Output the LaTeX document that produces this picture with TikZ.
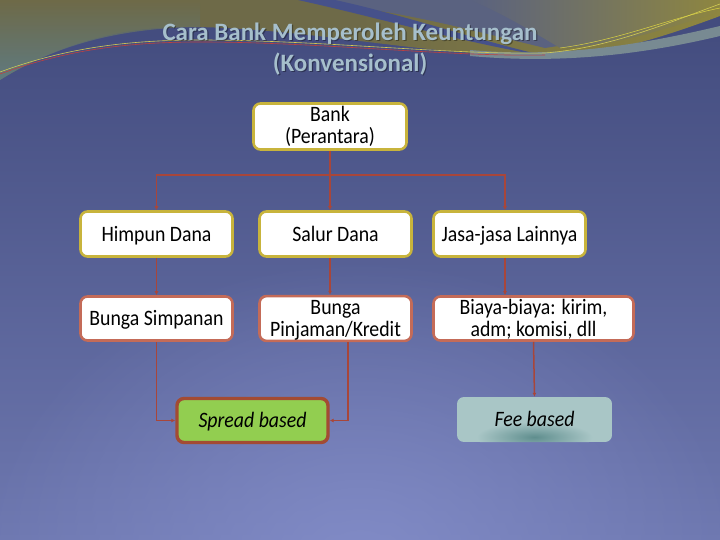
\documentclass[tikz,border=0pt]{standalone}
\usepackage{fontspec}
\setmainfont{Carlito}
\newfontfamily\narrowfont{Carlito}[FakeStretch=0.9]
\usetikzlibrary{arrows.meta,fadings}
\definecolor{ybord}{HTML}{C8B43C}
\definecolor{rbord}{HTML}{C46B58}
\definecolor{sbord}{HTML}{A34B33}
\definecolor{linkc}{HTML}{A8463A}
\definecolor{sgreen}{HTML}{92CE50}
\definecolor{feec}{HTML}{A9C6C6}
\definecolor{feedark}{HTML}{5F8E8E}
\definecolor{titlec}{HTML}{A6BFCC}
\definecolor{bgtop}{HTML}{414A7C}
\definecolor{bgbot}{HTML}{6E78B0}
\definecolor{bglight}{HTML}{8690CC}
\definecolor{olive}{HTML}{6E6A48}
\definecolor{oliveyel}{HTML}{8E8640}
\definecolor{tealish}{HTML}{5C7E8E}
\definecolor{stripe}{HTML}{46518A}
\definecolor{graybl}{HTML}{5A6280}
\definecolor{grayband}{HTML}{788A92}
\tikzfading[name=glowfade, inner color=transparent!0, outer color=transparent!100]
\begin{document}
\begin{tikzpicture}[x=1pt,y=-1pt,
  box/.style={draw, rounded corners=7pt, fill=white, minimum width=152pt,
    minimum height=45pt, align=center, inner sep=1pt,
    font=\narrowfont\fontsize{22}{22}\selectfont, line width=2.6pt},
  oneline/.style={text height=14pt, text depth=0pt},
  ybox/.style={box, draw=ybord},
  rbox/.style={box, draw=rbord, minimum height=44pt},
  linkline/.style={draw=linkc, line width=1.5pt, -{Latex[length=4pt,width=4pt]}},
  titletext/.style={font=\fontsize{25}{31}\selectfont\bfseries, align=center}]
% background
\useasboundingbox (0,0) rectangle (720,540);
\shade[top color=bgtop, bottom color=bgbot] (0,0) rectangle (720,540);
\fill[bglight, opacity=0.8, path fading=glowfade]
  (360,560) ellipse [x radius=380pt, y radius=300pt];
% top decoration
\shade[left color=olive, right color=oliveyel, middle color=olive]
  (0,0) -- (720,0) -- (720,16) .. controls (650,42) and (600,56) .. (545,56)
  .. controls (420,56) and (300,26) .. (180,27)
  .. controls (100,28) and (40,55) .. (0,80) -- cycle;
\shade[top color=olive, bottom color=tealish, opacity=0.8]
  (0,0) -- (200,0) -- (200,27) .. controls (100,28) and (40,55) .. (0,80) -- cycle;
\fill[graybl] (300,0) -- (720,0) -- (720,6) .. controls (640,25) and (600,40) .. (545,48)
  .. controls (470,30) and (400,10) .. (300,0) -- cycle;
\shade[left color=graybl, right color=oliveyel]
  (470,0) -- (720,0) -- (720,12) .. controls (650,34) and (610,46) .. (560,48)
  .. controls (530,30) and (500,12) .. (470,0) -- cycle;
\fill[stripe] (298,0) .. controls (380,18) and (460,42) .. (545,56)
  .. controls (470,38) and (400,14) .. (335,0) -- cycle;
\fill[grayband] (470,50) .. controls (560,58) and (640,45) .. (720,26)
  -- (720,36) .. controls (640,55) and (560,64) .. (470,56) -- cycle;
\draw[yellow!60!gray, line width=0.6pt] (0,72) .. controls (60,50) and (120,40) .. (200,40)
  .. controls (320,40) and (450,55) .. (545,53) .. controls (610,48) and (670,22) .. (720,4);
\draw[red!50!gray, line width=0.6pt] (0,74) .. controls (60,52) and (120,42) .. (200,42)
  .. controls (320,42) and (450,57) .. (545,55);
\draw[yellow!70!gray, line width=0.5pt] (560,48) .. controls (620,40) and (670,18) .. (720,8);
% title
\node[titletext, text=black, opacity=0.35] (titleshadow) at (351.2,50.2)
  {Cara Bank Memperoleh Keuntungan\\(Konvensional)};
\node[titletext, text=titlec] (title) at (350,49)
  {Cara Bank Memperoleh Keuntungan\\(Konvensional)};
% nodes
\node[ybox, minimum width=153pt, minimum height=46pt] (bank) at (330,126.5) {Bank\\(Perantara)};
\node[ybox, oneline] (himpun) at (156.5,234) {Himpun Dana};
\node[ybox, oneline] (salur) at (335.5,234) {Salur Dana};
\node[ybox, oneline] (jasa) at (509.5,234) {Jasa-jasa Lainnya};
\node[rbox, oneline] (simpanan) at (156.5,318.5) {Bunga Simpanan};
\node[rbox] (pinjaman) at (335.5,318.5) {\rule{0pt}{17pt}Bunga\\Pinjaman/Kredit};
\node[rbox, minimum width=200pt] (biaya) at (533.5,318.5) {\rule{0pt}{17pt}Biaya-biaya: kirim,\\adm; komisi, dll};
\node[box, oneline, draw=sbord, fill=sgreen, line width=3.4pt, minimum width=151pt,
  minimum height=44pt, font=\narrowfont\fontsize{22}{22}\selectfont\itshape] (spread) at (252.5,420.5) {Spread based};
\begin{scope}
  \path[clip, rounded corners=7pt] (457,397) rectangle (612,442);
  \fill[feec] (457,397) rectangle (612,442);
  \shade[inner color=feedark, outer color=feec] (534.5,437) ellipse [x radius=58pt, y radius=15pt];
\end{scope}
\node[oneline, font=\narrowfont\fontsize{22}{22}\selectfont\itshape, minimum width=155pt, minimum height=45pt] (fee) at (534.5,419.5) {Fee based};
% connectors
\coordinate (split) at (330,175);
\coordinate (jx) at (505,175);
\coordinate (px) at (348,342);
\draw[linkline] (bank.south) -- (split) -| (himpun.north);
\draw[linkline] (bank.south) -- (bank.south |- salur.north);
\draw[linkline] (bank.south) -- (split) -- (jx) -- (jx |- jasa.north);
\draw[linkline] (himpun.south) -- (simpanan.north);
\draw[linkline] (bank.south |- salur.south) -- (bank.south |- pinjaman.north);
\draw[linkline] (jx |- jasa.south) -- (jx |- biaya.north);
\draw[linkline] (simpanan.south) |- (spread.west);
\draw[linkline] (px |- pinjaman.south) |- (spread.east);
\draw[linkline] (biaya.south) -- (fee.north);
\end{tikzpicture}
\end{document}
